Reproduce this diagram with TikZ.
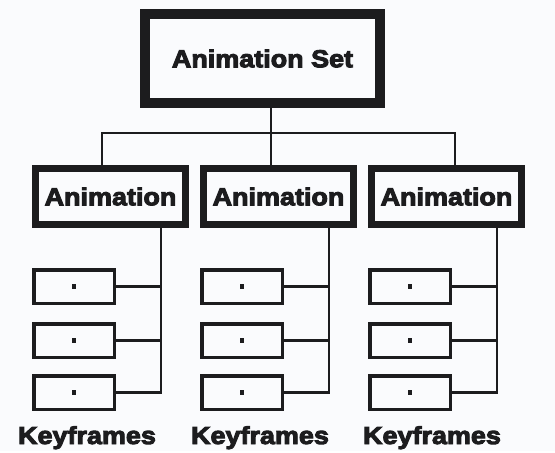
\documentclass[tikz,border=0pt]{standalone}
\usepackage{fontspec}
\newfontfamily\heavyfont{Liberation Sans}[BoldFeatures={FakeBold=4,FakeStretch=1.1}]
\usetikzlibrary{positioning}
\definecolor{ink}{RGB}{28,28,30}
\definecolor{paper}{RGB}{250,251,253}

\begin{document}
\begin{tikzpicture}[
  x=1pt, y=-1pt,
  every node/.style={font=\heavyfont\bfseries\fontsize{24.5}{28}\selectfont, align=center, text=ink},
  setbox/.style={draw=ink, line width=10pt, minimum width=235pt, minimum height=89pt, inner sep=0pt},
  animbox/.style={draw=ink, line width=7pt, minimum width=150pt, minimum height=56pt, inner sep=0pt},
  keybox/.style={draw=ink, line width=3.5pt, minimum width=80.5pt, minimum height=33.5pt, inner sep=0pt},
  link/.style={draw=ink, line width=2.8pt}
]
\fill[paper] (0,0) rectangle (555,451);
\node[setbox] (set) at (262.5,58.5) {Animation Set};
% one column per animation
\foreach \i/\ax/\kx/\vx/\lx in {1/110.5/74/161/87, 2/278.5/242/329/260, 3/446.5/410/497/432} {
  \node[animbox] (anim\i) at (\ax,196.5) {Animation};
  \node[keybox] (key\i a) at (\kx,286.5) {\rule{4.5pt}{4.5pt}};
  \node[keybox] (key\i b) at (\kx,340.5) {\rule{4.5pt}{4.5pt}};
  \node[keybox] (key\i c) at (\kx,392.5) {\rule{4.5pt}{4.5pt}};
  \node[anchor=base] (label\i) at (\lx,444) {Keyframes};
  \coordinate (spine\i) at (\vx,392.5);
  \draw[link] (anim\i.south -| spine\i) -- (spine\i) -- (key\i c.east);
  \draw[link] (key\i a.east) -- (key\i a.east -| spine\i);
  \draw[link] (key\i b.east) -- (key\i b.east -| spine\i);
}
\coordinate (hub) at (271,133);
\coordinate (bus1) at (102,133);
\coordinate (bus3) at (455,133);
\draw[link] (set.south -| hub) -- (hub) -- (anim2.north -| hub);
\draw[link] (anim1.north -| bus1) -- (bus1) -- (bus3) -- (anim3.north -| bus3);
\end{tikzpicture}
\end{document}
